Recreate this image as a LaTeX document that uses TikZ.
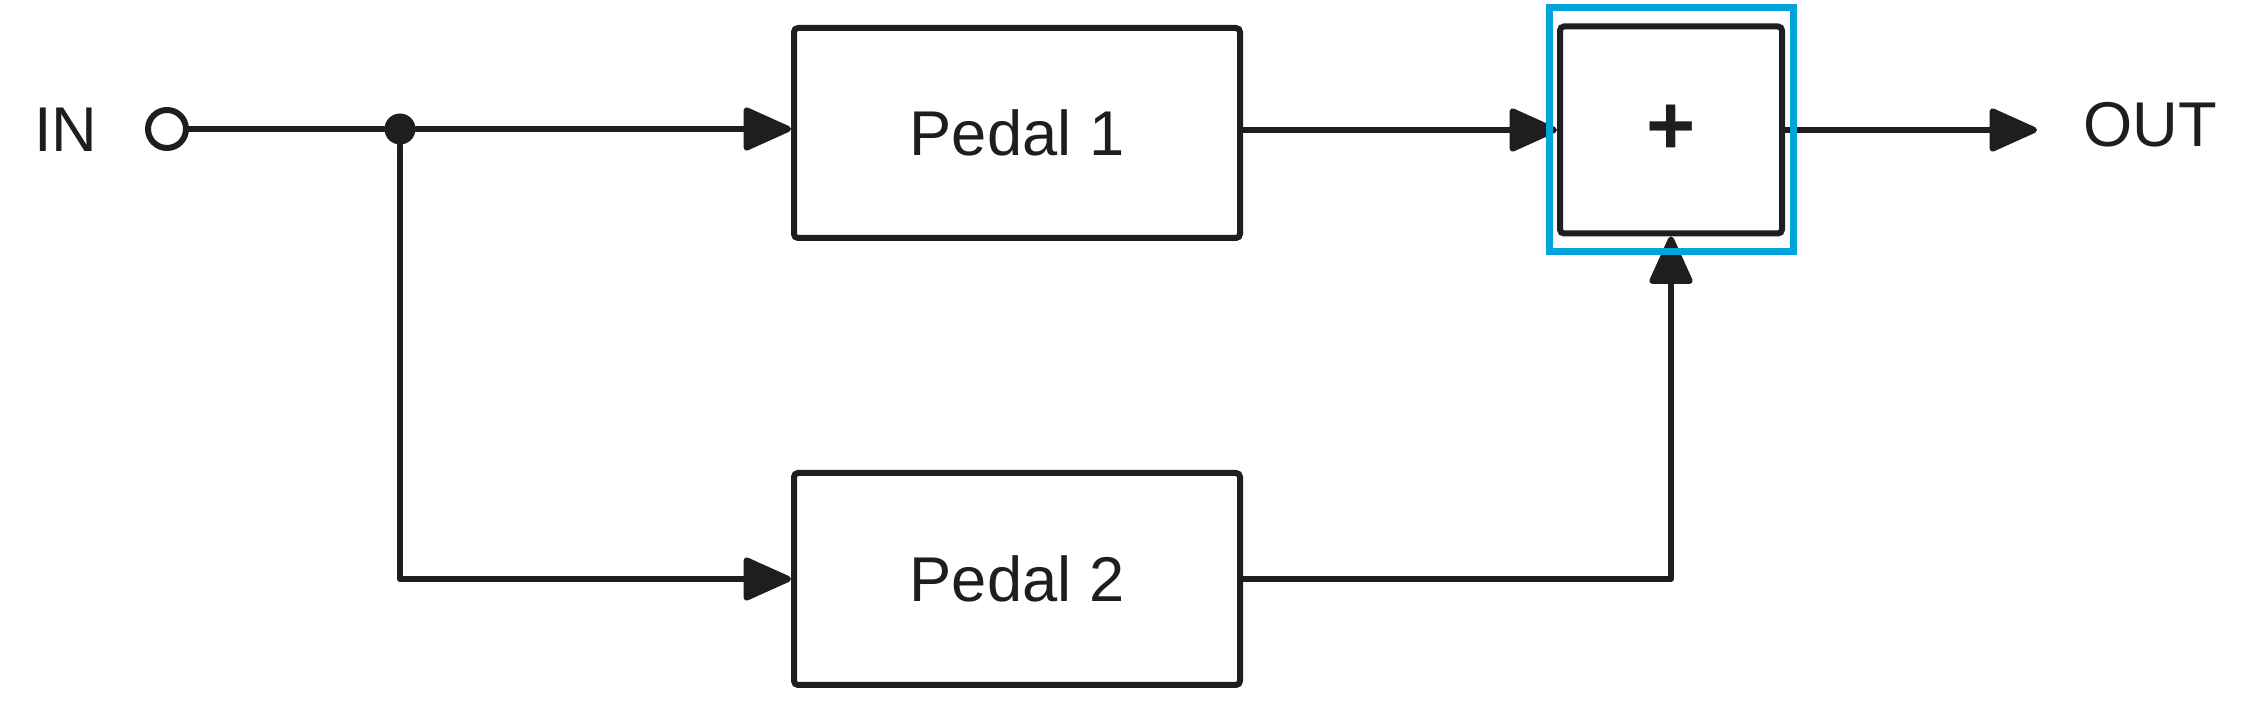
\documentclass[tikz,border=0pt]{standalone}
\usepackage{fontspec}
\setmainfont{Liberation Sans}
\usetikzlibrary{arrows.meta, positioning, fit}
\definecolor{ink}{HTML}{1E1E1E}
\definecolor{selblue}{RGB}{0,163,218}

\begin{document}
\begin{tikzpicture}[
    wire/.style={draw=ink, line width=0.6mm, line cap=round, line join=round},
    arr/.style={wire, -{Triangle[length=5.2mm,width=4.5mm,round]}},
    block/.style={draw=ink, line width=0.6mm, rounded corners=0.4mm, minimum width=4.46cm,
      minimum height=2.1cm, font=\fontsize{18}{22}\selectfont, text=ink},
    sumbox/.style={block, minimum width=2.22cm, minimum height=2.07cm},
    lbl/.style={font=\fontsize{18}{22}\selectfont, text=ink, inner sep=0},
    port/.style={circle, draw=ink, line width=0.6mm, minimum size=3.8mm, inner sep=0},
    jdot/.style={circle, fill=ink, minimum size=3.1mm, inner sep=0},
    selbox/.style={draw=selblue, line width=0.7mm, inner xsep=0.8mm, inner ysep=1.55mm}
  ]
  \useasboundingbox (0,0) rectangle (22.56,7.13);
  % input side
  \node[lbl] (in) at (0.66,5.83) {IN};
  \node[port] (inport) at (1.67,5.84) {};
  \node[jdot] (split) at (4.00,5.84) {};
  % the two pedals and the sum
  \node[block] (ped1) at (10.17,5.80) {Pedal 1};
  \node[block, minimum height=2.12cm] (ped2) at (10.17,1.34) {Pedal 2};
  \node[sumbox, font=\fontsize{24}{28}\selectfont\bfseries] (sum) at (16.71,5.83) {+};
  % output side
  \coordinate (outtip) at (20.37,5.83);
  \node[lbl, anchor=west] (out) at (20.83,5.88) {OUT};

  \draw[wire] (inport.east) -- (split);
  \draw[arr] (split) -- (split -| ped1.west);
  \draw[arr] (split) |- (ped2.west);
  \draw[arr] (ped1.east |- sum.west) -- (sum.west);
  \draw[arr] (ped2.east) -| (sum.south);
  \draw[arr] (sum.east) -- (outtip);

  % selection frame
  \node[selbox, fit=(sum)] (sel) {};
\end{tikzpicture}
\end{document}
